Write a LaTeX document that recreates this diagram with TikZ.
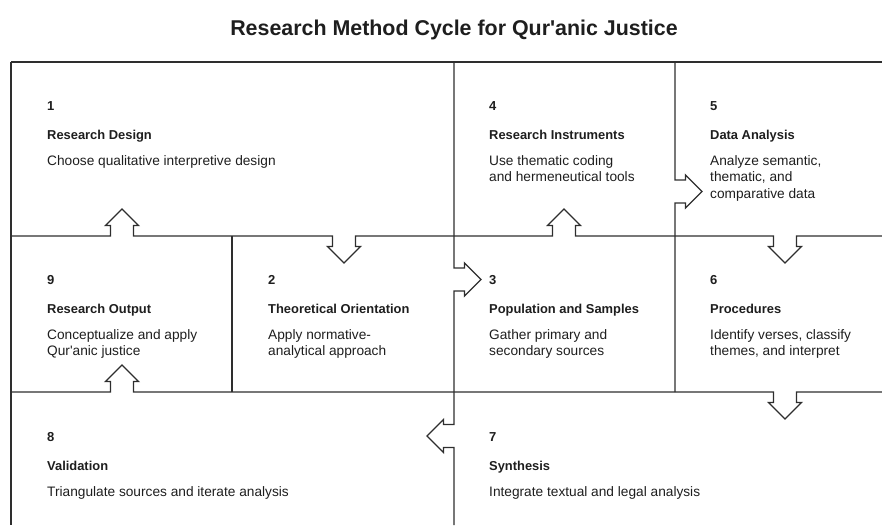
\documentclass[tikz,border=0pt]{standalone}
\usepackage{fontspec}
\setmainfont{Liberation Sans}[Ligatures=TeXOff]
\definecolor{ink}{HTML}{1E1E1E}
\definecolor{edge}{HTML}{2E2E2E}
\newcommand{\nUp}[2]{-- (#1-11.5,#2) -- (#1-11.5,#2-10.5) -- (#1-16.5,#2-10.5) -- (#1,#2-27) -- (#1+16.5,#2-10.5) -- (#1+11.5,#2-10.5) -- (#1+11.5,#2)}
\newcommand{\nDown}[2]{-- (#1-11.5,#2) -- (#1-11.5,#2+10.5) -- (#1-16.5,#2+10.5) -- (#1,#2+27) -- (#1+16.5,#2+10.5) -- (#1+11.5,#2+10.5) -- (#1+11.5,#2)}
\newcommand{\nRight}[2]{-- (#1,#2-11.5) -- (#1+10.5,#2-11.5) -- (#1+10.5,#2-16.5) -- (#1+27,#2) -- (#1+10.5,#2+16.5) -- (#1+10.5,#2+11.5) -- (#1,#2+11.5)}
\newcommand{\nLeft}[2]{-- (#1,#2-11.5) -- (#1-10.5,#2-11.5) -- (#1-10.5,#2-16.5) -- (#1-27,#2) -- (#1-10.5,#2+16.5) -- (#1-10.5,#2+11.5) -- (#1,#2+11.5)}
\tikzset{
  ln/.style={draw=edge, line width=1.25pt, line join=miter},
  num/.style={anchor=base west, inner sep=0pt, text=ink, font=\fontsize{13}{16}\selectfont\bfseries},
  ttl/.style={anchor=base west, inner sep=0pt, text=ink, font=\fontsize{12.9}{16}\selectfont\bfseries},
  desc/.style={anchor=base west, inner sep=0pt, text=ink, align=left, font=\fontsize{13.7}{16.7}\selectfont},
}
\begin{document}
\begin{tikzpicture}[x=1pt,y=-1pt]
\useasboundingbox (0,0) rectangle (882,525);
\node[anchor=base, inner sep=0pt, text=ink, font=\fontsize{21.4}{25}\selectfont\bfseries] (title) at (454,35) {Research Method Cycle for Qur'anic Justice};
% grid lines
\draw[ln] (11,62) -- (882,62);
\draw[ln] (11,236) \nUp{122}{236} \nDown{344}{236} \nUp{564}{236} \nDown{785}{236} -- (882,236);
\draw[ln] (11,392) \nUp{122}{392} \nDown{785}{392} -- (882,392);
\draw[ln] (11,62) -- (11,525);
\draw[ln] (232,236) -- (232,392);
\draw[ln] (454,62) \nRight{454}{279.5} \nLeft{454}{436} -- (454,525);
\draw[ln] (675,62) \nRight{675}{191.5} -- (675,392);
% row 1 (multi-line nodes: base = last line)
\node[num] (n1) at (47,110.7) {1};
\node[ttl] (t1) at (47,139) {Research Design};
\node[desc] (d1) at (47,165) {Choose qualitative interpretive design};
\node[num] (n4) at (489,110.7) {4};
\node[ttl] (t4) at (489,139) {Research Instruments};
\node[desc] (d4) at (489,181.7) {Use thematic coding\\and hermeneutical tools};
\node[num] (n5) at (710,110.7) {5};
\node[ttl] (t5) at (710,139) {Data Analysis};
\node[desc] (d5) at (710,198.4) {Analyze semantic,\\thematic, and\\comparative data};
% row 2
\node[num] (n9) at (47,284.7) {9};
\node[ttl] (t9) at (47,313) {Research Output};
\node[desc] (d9) at (47,355.7) {Conceptualize and apply\\Qur'anic justice};
\node[num] (n2) at (268,284.7) {2};
\node[ttl] (t2) at (268,313) {Theoretical Orientation};
\node[desc] (d2) at (268,355.7) {Apply normative-\\analytical approach};
\node[num] (n3) at (489,284.7) {3};
\node[ttl] (t3) at (489,313) {Population and Samples};
\node[desc] (d3) at (489,355.7) {Gather primary and\\secondary sources};
\node[num] (n6) at (710,284.7) {6};
\node[ttl] (t6) at (710,313) {Procedures};
\node[desc] (d6) at (710,355.7) {Identify verses, classify\\themes, and interpret};
% row 3
\node[num] (n8) at (47,441.7) {8};
\node[ttl] (t8) at (47,470) {Validation};
\node[desc] (d8) at (47,496) {Triangulate sources and iterate analysis};
\node[num] (n7) at (489,441.7) {7};
\node[ttl] (t7) at (489,470) {Synthesis};
\node[desc] (d7) at (489,496) {Integrate textual and legal analysis};
\end{tikzpicture}
\end{document}
